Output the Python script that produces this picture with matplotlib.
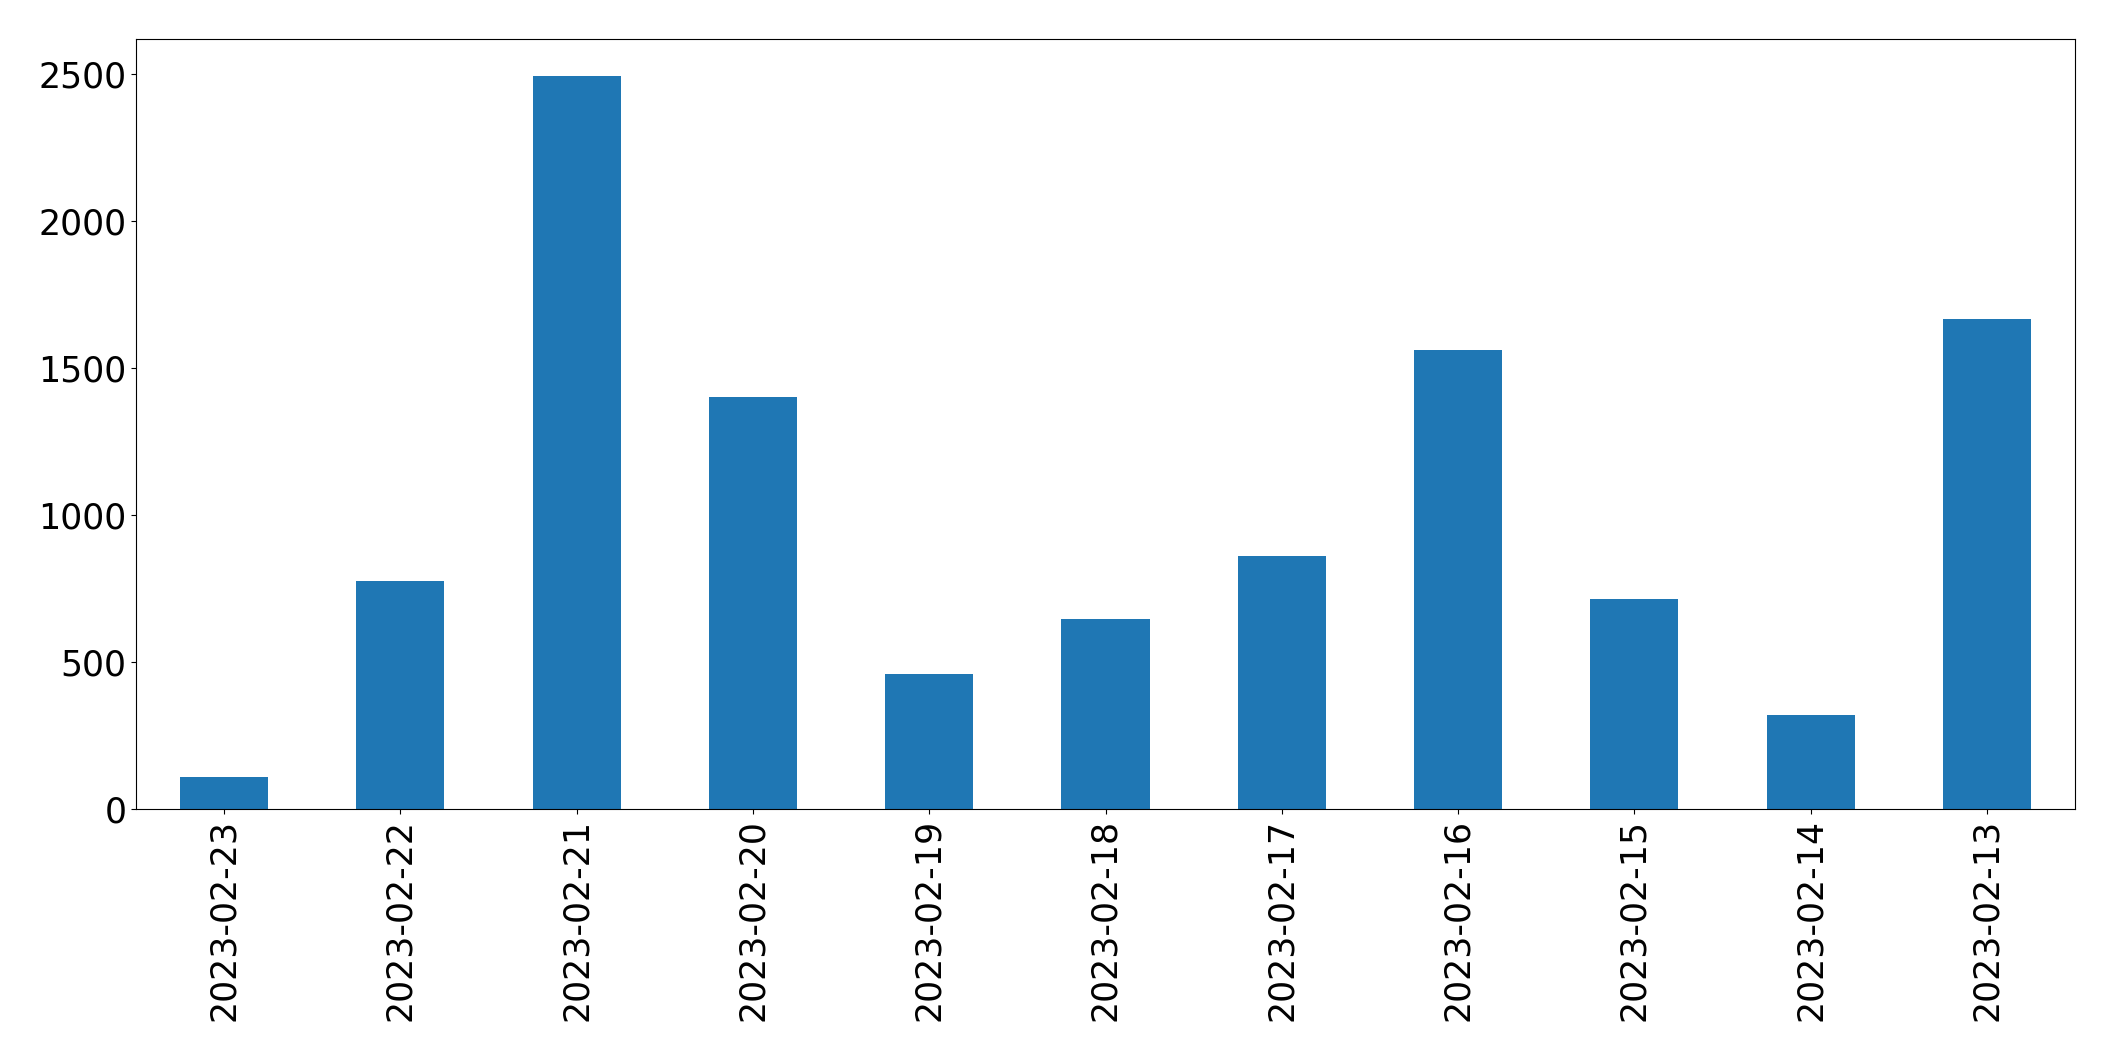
import matplotlib
matplotlib.use("Agg")
import matplotlib.pyplot as plt
import numpy as np

dates = ["2023-02-23", "2023-02-22", "2023-02-21", "2023-02-20", "2023-02-19",
         "2023-02-18", "2023-02-17", "2023-02-16", "2023-02-15", "2023-02-14",
         "2023-02-13"]
counts = [110, 775, 2494, 1402, 458, 645, 862, 1561, 716, 320, 1667]

fig = plt.figure(figsize=(21.15, 10.61), dpi=100)
ax = fig.add_axes([136 / 2115, 1 - 809 / 1061, (2075 - 136) / 2115, (809 - 39) / 1061])
x = np.arange(len(dates))
ax.bar(x, counts, width=0.5, color="#1f77b4")
ax.set_xlim(-0.5, len(dates) - 0.5)
ax.set_ylim(0, 2620)
ax.set_xticks(x)
ax.set_xticklabels(dates, rotation=90)
ax.set_yticks([0, 500, 1000, 1500, 2000, 2500])
ax.tick_params(axis="both", labelsize=25)
fig.savefig("out.png", dpi=100)
